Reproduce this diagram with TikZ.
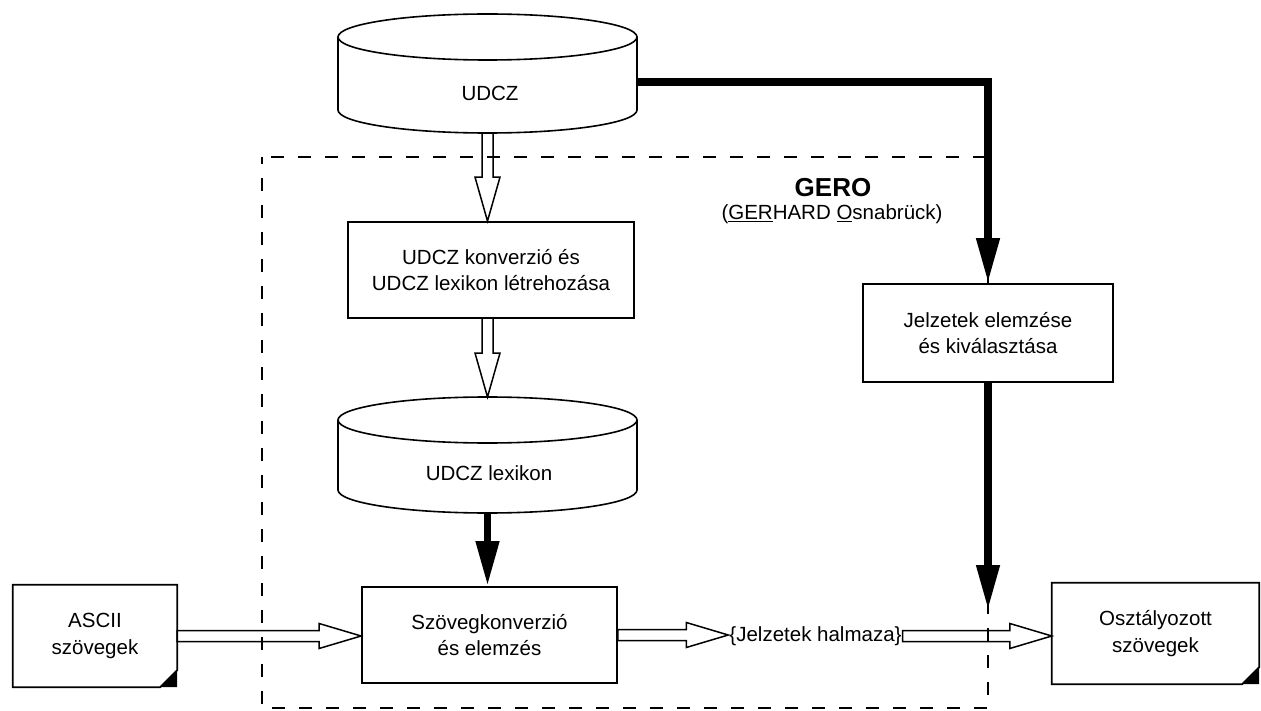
\documentclass[tikz,border=0pt]{standalone}
\usepackage{fontspec}
\setmainfont{Liberation Sans}
\usetikzlibrary{arrows.meta,calc}
\newcommand{\drawcyl}[5]{%
  \draw[cylline] (#1-#4,#2) -- (#1-#4,#3) arc[start angle=180,end angle=0,x radius=#4,y radius=#5] -- (#1+#4,#2);
  \draw[cylline] (#1,#2) ellipse[x radius=#4, y radius=#5];}
\newcommand{\harrowdown}[2]{%
  \draw[hollow] let \p1=(#1), \p2=(#2) in
    (\x2-5.5pt,\y1) -- (\x2-5.5pt,\y2+44pt) -- (\x2-12.5pt,\y2+44pt) -- (\x2,\y2)
    -- (\x2+12.5pt,\y2+44pt) -- (\x2+5.5pt,\y2+44pt) -- (\x2+5.5pt,\y1);}
\newcommand{\harrowright}[2]{%
  \draw[hollow] let \p1=(#1), \p2=(#2) in
    (\x1,\y2+5.5pt) -- (\x2-42pt,\y2+5.5pt) -- (\x2-42pt,\y2+12.5pt) -- (\x2,\y2)
    -- (\x2-42pt,\y2-12.5pt) -- (\x2-42pt,\y2-5.5pt) -- (\x1,\y2-5.5pt) -- cycle;}
\begin{document}
\begin{tikzpicture}[x=1pt,y=-1pt,
  every node/.style={font=\fontsize{20.5}{26.5}\selectfont, align=center},
  box/.style={draw, fill=white, line width=1.8pt, inner sep=0pt},
  docnode/.style={inner sep=0pt},
  boxline/.style={line width=1.8pt, line join=miter},
  cylline/.style={line width=1.6pt},
  hollow/.style={line width=1.5pt, line join=miter},
  bold/.style={line width=7.5pt, line join=miter, -{Triangle[length=45pt,width=22pt]}},
  dashedbox/.style={line width=1.6pt, dash pattern=on 13pt off 14pt, dash phase=6pt}]
\useasboundingbox (0,0) rectangle (1261,711);

% dashed GERO frame
\draw[dashedbox] (262,157) rectangle (988,708);

% cylinders
\drawcyl{487.5}{37}{110}{149.5}{23}
\drawcyl{487.5}{420}{490}{149.5}{23}
\coordinate (udczbot) at (487.5,133);
\coordinate (udczR) at (637,82);
\coordinate (lextop) at (487.5,397);
\coordinate (lexbot) at (487.5,513);
\node (udcz) at (490,93) {UDCZ};
\node (lex) at (489,473) {UDCZ lexikon};

% boxes
\node[box, minimum width=286pt, minimum height=96pt] (konv) at (491,270)
  {UDCZ konverzió és\\UDCZ lexikon létrehozása};
\node[box, minimum width=255pt, minimum height=96pt] (szov) at (489.5,635)
  {Szövegkonverzió\\és elemzés};
\node[box, minimum width=250pt, minimum height=98pt] (jelz) at (988,333)
  {Jelzetek elemzése\\és kiválasztása};

% documents
\node[docnode, minimum width=164pt, minimum height=102pt] (ascii) at (95,636) {ASCII\\szövegek};
\draw[boxline] (ascii.north west) -- (ascii.north east) -- ($(ascii.south east)+(0,-17)$)
  -- ($(ascii.south east)+(-17,0)$) -- (ascii.south west) -- cycle;
\fill ($(ascii.south east)+(0,-17)$) -- (ascii.south east) -- ($(ascii.south east)+(-17,0)$) -- cycle;

\node[docnode, minimum width=207pt, minimum height=101pt] (oszt) at (1155.5,633.5) {Osztályozott\\szövegek};
\draw[boxline] (oszt.north west) -- (oszt.north east) -- ($(oszt.south east)+(0,-17)$)
  -- ($(oszt.south east)+(-17,0)$) -- (oszt.south west) -- cycle;
\fill ($(oszt.south east)+(0,-17)$) -- (oszt.south east) -- ($(oszt.south east)+(-17,0)$) -- cycle;

% set label
\node[inner sep=1pt] (jh) at (815.5,636) {\{Jelzetek halmaza\}};

% GERO label
\node[anchor=base, font=\fontsize{26}{30}\selectfont\bfseries] (gero) at (833,197) {GERO};
\node[anchor=base] (gerhard) at (832,220) {(\underline{GER}HARD \underline{O}snabrück)};

% hollow arrows
\harrowdown{udczbot}{udczbot |- konv.north}
\harrowdown{lexbot |- konv.south}{lextop}
\harrowright{ascii.east}{ascii.east -| szov.west}
\harrowright{szov.east}{szov.east -| jh.west}
\harrowright{jh.east}{jh.east -| oszt.west}

% bold arrows
\coordinate (jtip) at (988,610);
\draw[bold] (udczR) -- (udczR -| jelz.north) -- (jelz.north);
\draw[bold] (lexbot) -- (lexbot |- szov.north);
\draw[bold] (jelz.south) -- (jtip);
\end{tikzpicture}
\end{document}
